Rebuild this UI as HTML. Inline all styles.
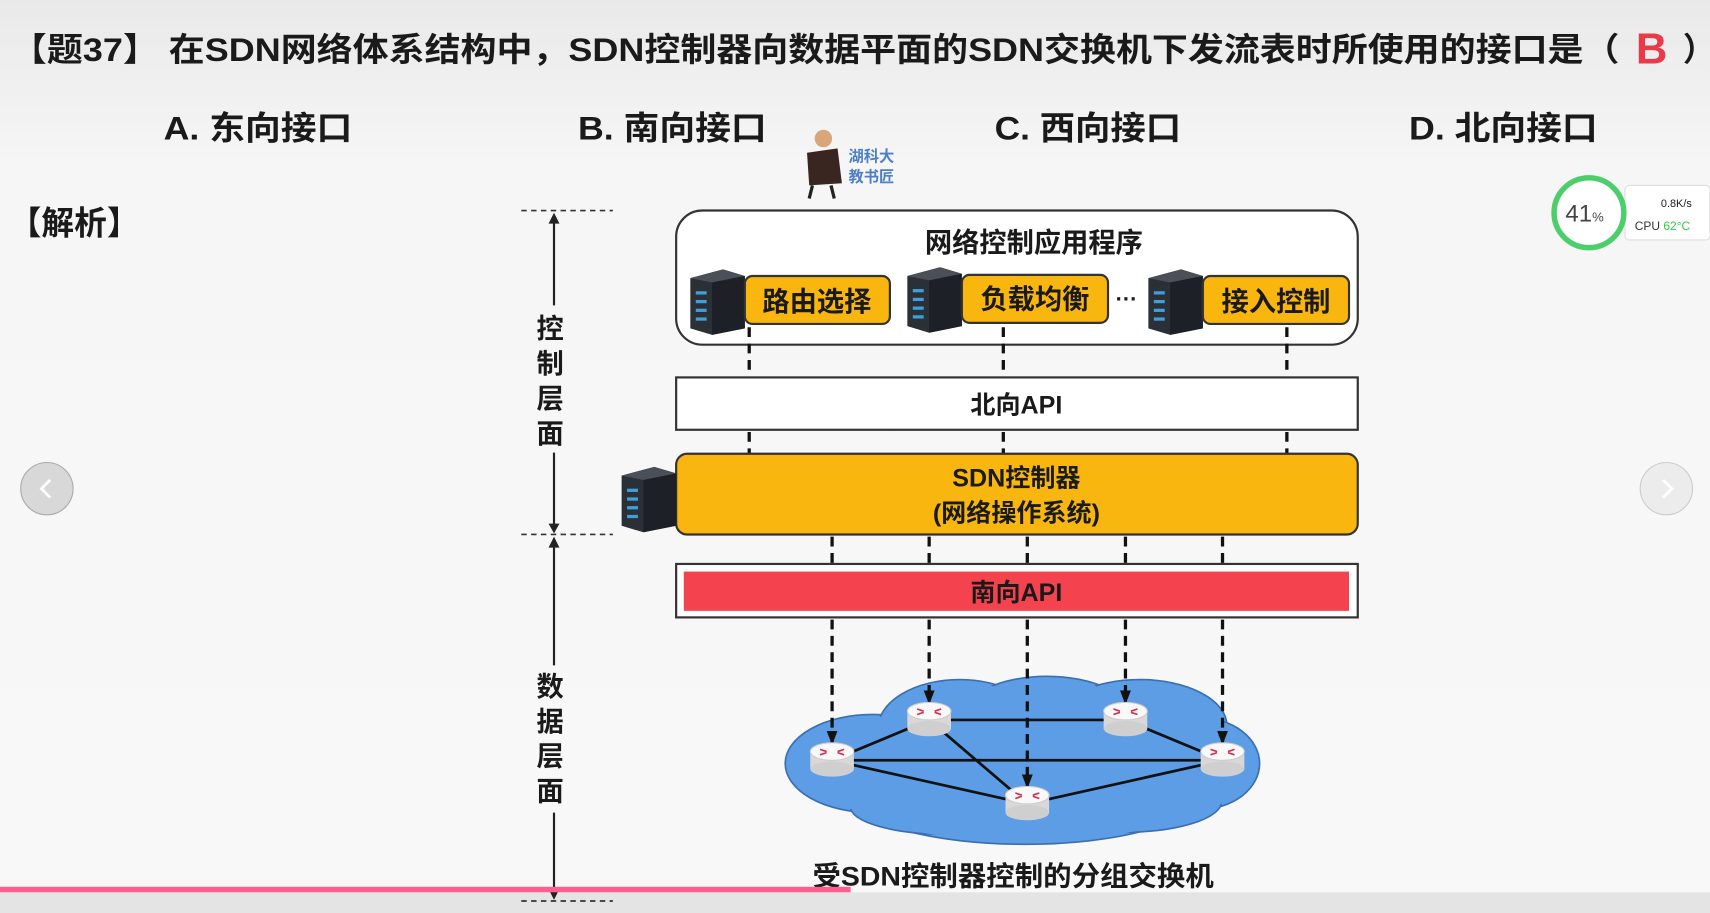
<!DOCTYPE html>
<html><head><meta charset="utf-8"><style>
html,body{margin:0;padding:0;width:1710px;height:913px;overflow:hidden;background:#f4f4f4}
svg{display:block}
text{font-family:"Liberation Sans","Noto Sans CJK SC",sans-serif;font-weight:bold;fill:#1a1a1a}
</style></head><body>
<svg width="1710" height="913" viewBox="0 0 1568 837" preserveAspectRatio="none" xmlns="http://www.w3.org/2000/svg">
<defs>
<linearGradient id="bg" x1="0" y1="0" x2="0" y2="1"><stop offset="0" stop-color="#e9e9e9"/><stop offset="0.18" stop-color="#f6f6f6"/><stop offset="1" stop-color="#f8f8f8"/></linearGradient>
<marker id="ar" markerWidth="14" markerHeight="12" refX="12" refY="5" orient="auto" markerUnits="userSpaceOnUse"><path d="M0,0 L13,5 L0,10 Z" fill="#111"/></marker>
<g id="srv"><path d="M0,8 L30,0 L50,6 L50,54 L20,60 L0,54 Z" fill="#2b2f36"/><path d="M0,8 L30,0 L50,6 L20,12 Z" fill="#4a4f58"/><path d="M20,12 L50,6 L50,54 L20,60Z" fill="#1d2026"/><g fill="#3f9fd8"><rect x="5" y="20" width="10" height="3"/><rect x="5" y="28" width="10" height="3"/><rect x="5" y="36" width="10" height="3"/><rect x="5" y="44" width="10" height="3"/></g></g>
<g id="rt"><rect x="-20" y="-8" width="40" height="16" fill="#d8d8d8"/><ellipse cx="0" cy="8" rx="20" ry="7" fill="#cfcfcf"/><ellipse cx="0" cy="-8" rx="20" ry="8" fill="#f8f8f8" stroke="#ccc"/><path d="M-11,-10 l6,2 M11,-10 l-6,2 M-11,-5 l6,-2 M11,-5 l-6,-2" stroke="#d03050" stroke-width="1.5"/></g>
</defs>
<rect width="1568" height="837" fill="url(#bg)"/>
<rect y="818" width="1568" height="19" fill="#e4e4e4"/>
<text x="10" y="56" font-size="30" textLength="1475" lengthAdjust="spacingAndGlyphs">【题37】 在SDN网络体系结构中，SDN控制器向数据平面的SDN交换机下发流表时所使用的接口是（</text>
<text x="1500" y="58" font-size="40" style="fill:#e83a48">B</text>
<text x="1543" y="56" font-size="30">）</text>
<g font-size="30"><text x="150" y="128" textLength="173" lengthAdjust="spacingAndGlyphs">A. 东向接口</text>
<text x="530" y="128" textLength="173" lengthAdjust="spacingAndGlyphs">B. 南向接口</text>
<text x="912" y="128" textLength="171" lengthAdjust="spacingAndGlyphs">C. 西向接口</text>
<text x="1292" y="128" textLength="173" lengthAdjust="spacingAndGlyphs">D. 北向接口</text></g>
<text x="8" y="215" font-size="30">【解析】</text>
<circle cx="755" cy="127" r="8" fill="#d9a57a"/><path d="M740,140 L768,136 L772,168 L742,170Z" fill="#3a2620"/><path d="M745,170 l-3,12 M762,170 l3,12" stroke="#222" stroke-width="3"/>
<text x="778" y="148" font-size="14" style="fill:#4d7fc9">湖科大</text><text x="778" y="167" font-size="14" style="fill:#4d7fc9">教书匠</text>
<g stroke="#333" stroke-width="1.5" stroke-dasharray="5,4"><line x1="478" y1="193" x2="562" y2="193"/><line x1="478" y1="490" x2="562" y2="490"/><line x1="478" y1="826" x2="562" y2="826"/></g>
<g stroke="#222" stroke-width="2"><line x1="508" y1="198" x2="508" y2="280"/><line x1="508" y1="415" x2="508" y2="486"/><line x1="508" y1="495" x2="508" y2="610"/><line x1="508" y1="745" x2="508" y2="822"/></g>
<path d="M503,205 L508,195 L513,205Z M503,480 L508,489 L513,480Z M503,502 L508,492 L513,502Z M503,815 L508,825 L513,815Z" fill="#222"/>
<g font-size="25"><text x="492" y="310">控</text><text x="492" y="342">制</text><text x="492" y="374">层</text><text x="492" y="406">面</text>
<text x="492" y="638">数</text><text x="492" y="670">据</text><text x="492" y="702">层</text><text x="492" y="734">面</text></g>
<rect x="620" y="193" width="625" height="123" rx="24" fill="#fff" stroke="#333" stroke-width="2"/>
<text x="948" y="231" font-size="25" text-anchor="middle">网络控制应用程序</text>
<use href="#srv" x="633" y="247"/><use href="#srv" x="832" y="245"/><use href="#srv" x="1053" y="247"/>
<g fill="#f8b60e" stroke="#333" stroke-width="2"><rect x="683" y="253" width="133" height="44" rx="7"/><rect x="882" y="252" width="134" height="44" rx="7"/><rect x="1103" y="253" width="134" height="44" rx="7"/></g>
<g font-size="25" text-anchor="middle"><text x="749" y="285">路由选择</text><text x="949" y="283">负载均衡</text><text x="1170" y="285">接入控制</text></g>
<text x="1033" y="281" font-size="20" text-anchor="middle">···</text>
<g stroke="#111" stroke-width="3" stroke-dasharray="9,6"><line x1="687" y1="300" x2="687" y2="345"/><line x1="920" y1="300" x2="920" y2="345"/><line x1="1180" y1="300" x2="1180" y2="345"/>
<line x1="687" y1="396" x2="687" y2="416"/><line x1="920" y1="396" x2="920" y2="416"/><line x1="1180" y1="396" x2="1180" y2="416"/></g>
<rect x="620" y="346" width="625" height="48" fill="#fff" stroke="#333" stroke-width="2"/>
<text x="932" y="379" font-size="23" text-anchor="middle">北向API</text>
<rect x="620" y="416" width="625" height="74" rx="10" fill="#f8b60e" stroke="#333" stroke-width="2"/>
<use href="#srv" x="570" y="428"/>
<text x="932" y="446" font-size="23" text-anchor="middle">SDN控制器</text>
<text x="932" y="478" font-size="23" text-anchor="middle">(网络操作系统)</text>
<g stroke="#111" stroke-width="3" stroke-dasharray="9,6"><line x1="763" y1="492" x2="763" y2="517"/><line x1="852" y1="492" x2="852" y2="517"/><line x1="942" y1="492" x2="942" y2="517"/><line x1="1032" y1="492" x2="1032" y2="517"/><line x1="1121" y1="492" x2="1121" y2="517"/></g>
<rect x="620" y="517" width="625" height="49" fill="#fff" stroke="#333" stroke-width="2"/>
<rect x="627" y="524" width="610" height="36" fill="#f4434f"/>
<text x="932" y="551" font-size="23" text-anchor="middle">南向API</text>
<g fill="#5d9de6" stroke="#3a6fb0" stroke-width="1.5">
<ellipse cx="800" cy="700" rx="80" ry="45"/><ellipse cx="880" cy="668" rx="75" ry="45"/><ellipse cx="960" cy="660" rx="80" ry="40"/><ellipse cx="1045" cy="665" rx="80" ry="42"/><ellipse cx="1100" cy="700" rx="55" ry="42"/><ellipse cx="940" cy="728" rx="160" ry="46"/><ellipse cx="870" cy="740" rx="90" ry="25"/><ellipse cx="1030" cy="735" rx="90" ry="28"/>
</g>
<g fill="#5d9de6"><ellipse cx="800" cy="700" rx="78" ry="43"/><ellipse cx="880" cy="668" rx="73" ry="43"/><ellipse cx="960" cy="660" rx="78" ry="38"/><ellipse cx="1045" cy="665" rx="78" ry="40"/><ellipse cx="1100" cy="700" rx="53" ry="40"/><ellipse cx="940" cy="728" rx="158" ry="44"/><ellipse cx="870" cy="740" rx="88" ry="23"/><ellipse cx="1030" cy="735" rx="88" ry="26"/></g>
<g stroke="#111" stroke-width="2.5"><line x1="763" y1="697" x2="852" y2="660"/><line x1="852" y1="660" x2="1032" y2="660"/><line x1="1032" y1="660" x2="1121" y2="697"/><line x1="763" y1="697" x2="1121" y2="697"/><line x1="763" y1="697" x2="942" y2="737"/><line x1="852" y1="660" x2="942" y2="737"/><line x1="942" y1="737" x2="1121" y2="697"/></g>
<g stroke="#111" stroke-width="3" stroke-dasharray="9,6"><line x1="763" y1="568" x2="763" y2="682" marker-end="url(#ar)"/><line x1="852" y1="568" x2="852" y2="645" marker-end="url(#ar)"/><line x1="942" y1="568" x2="942" y2="722" marker-end="url(#ar)"/><line x1="1032" y1="568" x2="1032" y2="645" marker-end="url(#ar)"/><line x1="1121" y1="568" x2="1121" y2="682" marker-end="url(#ar)"/></g>
<use href="#rt" x="763" y="697"/><use href="#rt" x="852" y="660"/><use href="#rt" x="1032" y="660"/><use href="#rt" x="1121" y="697"/><use href="#rt" x="942" y="737"/>
<text x="745" y="812" font-size="25" textLength="368" lengthAdjust="spacingAndGlyphs">受SDN控制器控制的分组交换机</text>
<rect x="0" y="813" width="780" height="5" fill="#ff5d8f"/>
<circle cx="43" cy="448" r="24" fill="#d8d8d8" stroke="#aaa"/><path d="M46,440 l-8,8 l8,8" stroke="#fff" stroke-width="2.5" fill="none"/>
<circle cx="1528" cy="448" r="24" fill="#ececec" stroke="#ccc"/><path d="M1525,440 l8,8 l-8,8" stroke="#fff" stroke-width="2.5" fill="none"/>
<rect x="1490" y="170" width="78" height="50" rx="4" fill="#fff" stroke="#ddd"/>
<circle cx="1457" cy="195" r="32" fill="#fff" stroke="#4ccf6a" stroke-width="5"/>
<text x="1453" y="203" font-size="22" text-anchor="middle" style="font-weight:normal;fill:#444">41<tspan font-size="12">%</tspan></text>
<text x="1523" y="190" font-size="10" style="font-weight:normal">0.8K/s</text>
<text x="1499" y="211" font-size="11" style="font-weight:normal;fill:#333">CPU <tspan style="fill:#2ecc40">62°C</tspan></text>
</svg>
</body></html>
